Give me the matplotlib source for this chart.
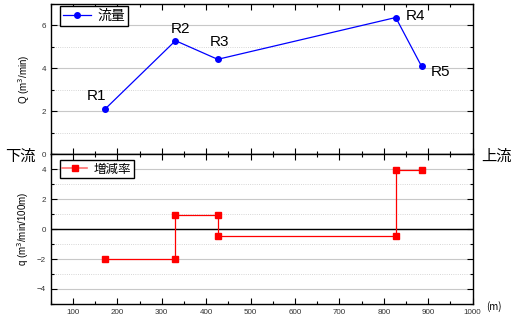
import numpy as np
import matplotlib
matplotlib.use("Agg")
import matplotlib.pyplot as plt
from matplotlib.lines import Line2D
from matplotlib.ticker import MultipleLocator

plt.rcParams['font.family'] = ['Liberation Sans', 'Noto Sans CJK JP', 'DejaVu Sans']

stations = ['R1', 'R2', 'R3', 'R4', 'R5']
dist = [172, 331, 426, 827, 885]
flow = [2.09, 5.29, 4.42, 6.37, 4.10]
rate = [-2.0, 0.92, -0.47, 3.97]

fig = plt.figure(figsize=(5.12, 3.21), dpi=100)
L, R = 0.099, 0.923
ax1 = fig.add_axes([L, 0.520, R - L, 0.4675])
ax2 = fig.add_axes([L, 0.053, R - L, 0.467])

def style(ax):
    ax.set_xlim(50, 1000)
    ax.xaxis.set_major_locator(MultipleLocator(100))
    ax.xaxis.set_minor_locator(MultipleLocator(50))
    ax.yaxis.set_major_locator(MultipleLocator(2))
    ax.yaxis.set_minor_locator(MultipleLocator(1))
    ax.tick_params(which='both', direction='in', top=True, right=True,
                   labelsize=5.8, labelcolor='#333333', width=0.8)
    ax.tick_params(which='major', length=4)
    ax.tick_params(which='minor', length=2)
    ax.grid(which='major', axis='y', color='#c8c8c8', lw=0.8)
    ax.grid(which='minor', axis='y', color='#c8c8c8', lw=0.6, ls=':')
    ax.set_axisbelow(True)
    for s in ax.spines.values():
        s.set_linewidth(1.0)

style(ax1)
style(ax2)

legkw = dict(loc='upper left', frameon=True, fancybox=False, edgecolor='black',
             framealpha=1, borderpad=0.2, borderaxespad=0, handlelength=2.0,
             handletextpad=0.5)

ax1.set_ylim(0, 7)
ax1.tick_params(labelbottom=False)
ax1.plot(dist, flow, color='#0000ff', lw=0.9, marker='o', ms=4, label='流量')
offsets = [(-8, 13), (5, 12), (2, 17), (20, 2), (19, -6)]
for name, x, y, off in zip(stations, dist, flow, offsets):
    ax1.annotate(name, (x, y), xytext=off, textcoords='offset pixels',
                 ha='center', va='center', fontsize=11)
ax1.set_ylabel('Q (m$^3$/min)', fontsize=7, labelpad=7)
leg1 = ax1.legend(bbox_to_anchor=(0.022, 0.985),
                  prop={'family': ['Noto Sans CJK JP'], 'size': 10}, **legkw)
leg1.get_frame().set_linewidth(1.0)

ax2.set_ylim(-5, 5)
xs = np.repeat(dist, 2)[1:-1]
ys = np.repeat(rate, 2)
ax2.axhline(0, color='black', lw=1.0, zorder=1.5)
ax2.plot(xs, ys, color='#ff0000', lw=0.9, marker='s', ms=4.5)
ax2.set_ylabel('q (m$^3$/min/100m)', fontsize=7, labelpad=4)
h = Line2D([], [], color='#ff7070', lw=1.2, marker='s', ms=4.5,
           markerfacecolor='#ff0000', markeredgecolor='#ff0000')
leg2 = ax2.legend([h], ['増減率'], bbox_to_anchor=(0.022, 0.96),
                  prop={'family': ['Noto Sans CJK JP'], 'size': 9}, **legkw)
leg2.get_frame().set_linewidth(1.0)

fig.text(0.040, 0.512, '下流', fontsize=11, ha='center', va='center',
         family=['Noto Sans CJK JP'])
fig.text(0.970, 0.512, '上流', fontsize=11, ha='center', va='center',
         family=['Noto Sans CJK JP'])
fig.text(0.965, 0.045, '(m)', fontsize=7, ha='center', va='center',
         family=['Noto Sans CJK JP'])

fig.savefig('out.png', dpi=100)
